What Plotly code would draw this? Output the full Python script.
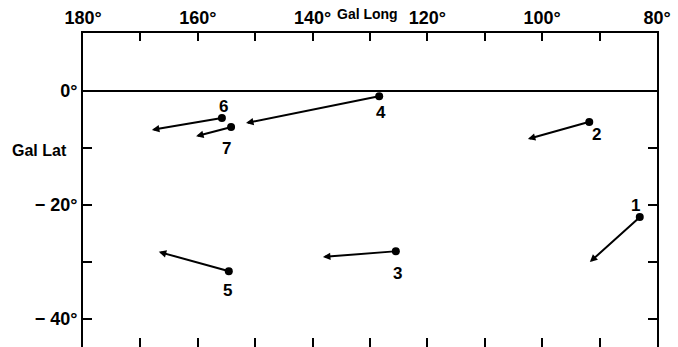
import plotly.graph_objects as go

# ---- data ----
obj_ids = ["1", "2", "3", "4", "5", "6", "7"]
start_lon = [83.0, 91.8, 125.5, 128.4, 154.6, 155.8, 154.2]
start_lat = [-22.1, -5.4, -28.1, -0.9, -31.6, -4.7, -6.3]
end_lon = [91.7, 102.5, 138.2, 151.6, 166.8, 168.0, 160.3]
end_lat = [-30.0, -8.4, -29.1, -5.6, -28.2, -6.8, -7.9]

lon_ticks = [180, 170, 160, 150, 140, 130, 120, 110, 100, 90, 80]
lon_labels = ["<b>180°</b>", "", "<b>160°</b>", "", "<b>140°</b>", "", "<b>120°</b>", "",
              "<b>100°</b>", "", "<b>80°</b>"]
lat_ticks = [0, -10, -20, -30, -40]
lat_labels = ["<b>0°</b>", "", "<b>− 20°</b>", "", "<b>− 40°</b>"]

# label offsets in pixels (style)
label_dx = [-4, 7, 2, 2, -1, 2, -5]
label_dy = [12, -13, -22, -16, -19, 11, -21]

FONT = "Liberation Sans"
fig = go.Figure()

# start dots
fig.add_trace(go.Scatter(
    x=start_lon, y=start_lat, mode="markers",
    marker=dict(color="black", size=8), showlegend=False, hoverinfo="skip"))
# invisible trace for bottom tick axis
fig.add_trace(go.Scatter(x=[180, 80], y=[0, 0], xaxis="x2", mode="markers",
                         marker=dict(opacity=0), showlegend=False, hoverinfo="skip"))

annotations = []
for i in range(len(obj_ids)):
    annotations.append(dict(
        x=end_lon[i], y=end_lat[i], ax=start_lon[i], ay=start_lat[i],
        xref="x", yref="y", axref="x", ayref="y", text="",
        showarrow=True, arrowhead=2, arrowsize=0.75, arrowwidth=2,
        arrowcolor="black", standoff=0, startstandoff=0))
    annotations.append(dict(
        x=start_lon[i], y=start_lat[i], xref="x", yref="y", text="<b>" + obj_ids[i] + "</b>",
        showarrow=False, xshift=label_dx[i], yshift=label_dy[i],
        xanchor="center", yanchor="middle",
        font=dict(family=FONT, size=17, color="black")))

annotations.append(dict(x=(367 - 83) / 574, y=(347 - 14) / 314, xref="paper", yref="paper",
                        xanchor="center", yanchor="middle",
                        text="<b>Gal Long</b>", showarrow=False,
                        font=dict(family=FONT, size=14, color="black")))
annotations.append(dict(x=(39 - 83) / 574, y=(347 - 150) / 314, xref="paper", yref="paper",
                        xanchor="center", yanchor="middle",
                        text="<b>Gal Lat</b>", showarrow=False,
                        font=dict(family=FONT, size=16, color="black")))

fig.update_layout(
    width=678, height=347,
    margin=dict(l=83, r=21, t=33, b=0, pad=0),
    paper_bgcolor="white", plot_bgcolor="white",
    showlegend=False,
    annotations=annotations,
    xaxis=dict(range=[180, 80], side="top", tickmode="array", tickvals=lon_ticks,
               ticktext=lon_labels, ticks="inside", ticklen=8, tickwidth=2,
               tickcolor="black", showline=True, linewidth=2, linecolor="black",
               showgrid=False, zeroline=False,
               tickfont=dict(family=FONT, size=18, color="black")),
    xaxis2=dict(range=[180, 80], overlaying="x", side="bottom", anchor="y",
                tickmode="array", tickvals=lon_ticks[1:-1], ticks="inside",
                ticklen=9, tickwidth=2, tickcolor="black", showticklabels=False,
                showline=False, showgrid=False, zeroline=False),
    yaxis=dict(range=[-44.9, 10.2], tickmode="array", tickvals=lat_ticks,
               ticktext=lat_labels, ticks="inside", ticklen=9, tickwidth=2,
               tickcolor="black", showline=True, linewidth=2, linecolor="black",
               mirror="ticks", showgrid=False, zeroline=True, zerolinewidth=2,
               zerolinecolor="black",
               tickfont=dict(family=FONT, size=18, color="black")),
)

fig.write_html("out.html")
